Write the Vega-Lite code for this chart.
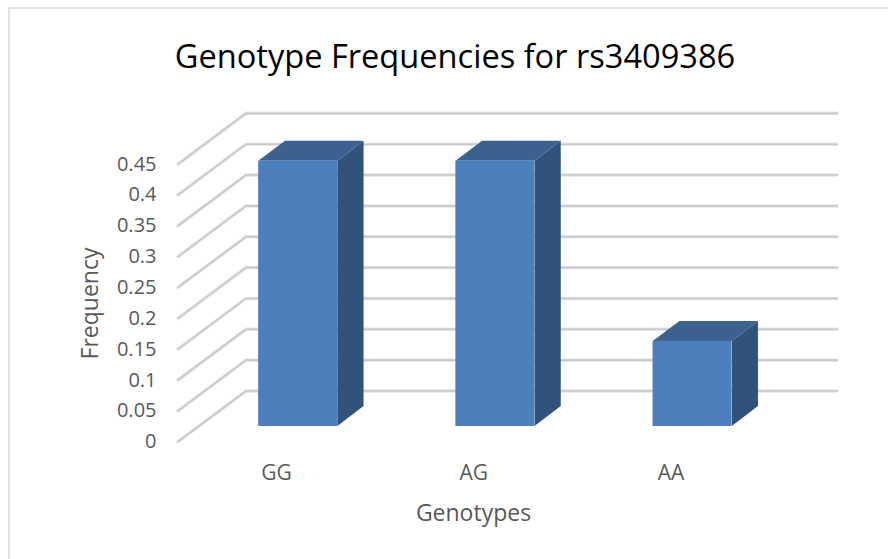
{
"$schema":"https://vega.github.io/schema/vega-lite/v6.json",
"width":888,"height":559,"padding":0,"autosize":"none","background":"white",
"config":{"view":{"stroke":null},"font":"Open Sans"},
"title":{"text":"Genotype Frequencies for rs3409386","font":"Open Sans","fontSize":32.6,"fontWeight":"normal","color":"#000000","anchor":"middle","frame":"group","dx":11,"offset":-75},
"datasets":{
"frame":[{"seq":0,"pos":-0.857,"level":-0.19},{"seq":1,"pos":-0.857,"level":0.703},{"seq":2,"pos":3.6,"level":0.703}],
"grid":[
{"tick":0,"seq":0,"pos":0,"level":0},{"tick":0,"seq":1,"pos":0.3448,"level":0.0822},{"tick":0,"seq":2,"pos":3.342,"level":0.0822},
{"tick":0.05,"seq":0,"pos":0,"level":0.05},{"tick":0.05,"seq":1,"pos":0.3448,"level":0.1322},{"tick":0.05,"seq":2,"pos":3.342,"level":0.1322},
{"tick":0.1,"seq":0,"pos":0,"level":0.1},{"tick":0.1,"seq":1,"pos":0.3448,"level":0.1822},{"tick":0.1,"seq":2,"pos":3.342,"level":0.1822},
{"tick":0.15,"seq":0,"pos":0,"level":0.15},{"tick":0.15,"seq":1,"pos":0.3448,"level":0.2322},{"tick":0.15,"seq":2,"pos":3.342,"level":0.2322},
{"tick":0.2,"seq":0,"pos":0,"level":0.2},{"tick":0.2,"seq":1,"pos":0.3448,"level":0.2822},{"tick":0.2,"seq":2,"pos":3.342,"level":0.2822},
{"tick":0.25,"seq":0,"pos":0,"level":0.25},{"tick":0.25,"seq":1,"pos":0.3448,"level":0.3322},{"tick":0.25,"seq":2,"pos":3.342,"level":0.3322},
{"tick":0.3,"seq":0,"pos":0,"level":0.3},{"tick":0.3,"seq":1,"pos":0.3448,"level":0.3822},{"tick":0.3,"seq":2,"pos":3.342,"level":0.3822},
{"tick":0.35,"seq":0,"pos":0,"level":0.35},{"tick":0.35,"seq":1,"pos":0.3448,"level":0.4322},{"tick":0.35,"seq":2,"pos":3.342,"level":0.4322},
{"tick":0.4,"seq":0,"pos":0,"level":0.4},{"tick":0.4,"seq":1,"pos":0.3448,"level":0.4822},{"tick":0.4,"seq":2,"pos":3.342,"level":0.4822},
{"tick":0.45,"seq":0,"pos":0,"level":0.45},{"tick":0.45,"seq":1,"pos":0.3448,"level":0.5322},{"tick":0.45,"seq":2,"pos":3.342,"level":0.5322}
],
"side":[
{"genotype":"GG","pos":0.808,"upper":0.4554,"lower":0.0254},{"genotype":"GG","pos":0.941,"upper":0.4878,"lower":0.0578},
{"genotype":"AG","pos":1.808,"upper":0.4554,"lower":0.0254},{"genotype":"AG","pos":1.941,"upper":0.4878,"lower":0.0578},
{"genotype":"AA","pos":2.808,"upper":0.1634,"lower":0.0254},{"genotype":"AA","pos":2.941,"upper":0.1958,"lower":0.0578}
],
"top":[
{"genotype":"GG","pos":0.4072,"upper":0.4554,"lower":0.4554},{"genotype":"GG","pos":0.5426,"upper":0.4878,"lower":0.4554},{"genotype":"GG","pos":0.808,"upper":0.4878,"lower":0.4554},{"genotype":"GG","pos":0.941,"upper":0.4878,"lower":0.4878},
{"genotype":"AG","pos":1.4072,"upper":0.4554,"lower":0.4554},{"genotype":"AG","pos":1.5426,"upper":0.4878,"lower":0.4554},{"genotype":"AG","pos":1.808,"upper":0.4878,"lower":0.4554},{"genotype":"AG","pos":1.941,"upper":0.4878,"lower":0.4878},
{"genotype":"AA","pos":2.4072,"upper":0.1634,"lower":0.1634},{"genotype":"AA","pos":2.5426,"upper":0.1958,"lower":0.1634},{"genotype":"AA","pos":2.808,"upper":0.1958,"lower":0.1634},{"genotype":"AA","pos":2.941,"upper":0.1958,"lower":0.1958}
],
"bars":[{"genotype":"GG","frequency":0.43},{"genotype":"AG","frequency":0.43},{"genotype":"AA","frequency":0.138}]
},
"data":{"name":"bars"},
"resolve":{"scale":{"x":"independent"},"axis":{"x":"independent","y":"independent"}},
"layer":[
{"data":{"name":"frame"},"mark":{"type":"line","color":"#e2e2e2","strokeWidth":2,"clip":false},
 "encoding":{"x":{"field":"pos","type":"quantitative","axis":null,"scale":{"domain":[-0.9026,3.6004],"nice":false,"zero":false}},
 "y":{"field":"level","type":"quantitative","axis":null,"scale":{"domain":[-0.1901,0.7159],"nice":false,"zero":false}},
 "order":{"field":"seq"}}},
{"data":{"name":"grid"},"mark":{"type":"line","color":"#e6e6e6","strokeWidth":3.5,"strokeCap":"round"},
 "encoding":{"x":{"field":"pos","type":"quantitative","axis":null,"scale":{"domain":[-0.9026,3.6004],"nice":false,"zero":false}},
 "y":{"field":"level","type":"quantitative","axis":null,"scale":{"domain":[-0.1901,0.7159],"nice":false,"zero":false}},
 "detail":{"field":"tick"},"order":{"field":"seq"}}},
{"data":{"name":"grid"},"mark":{"type":"line","color":"#c8c8c8","strokeWidth":1.6,"strokeCap":"round"},
 "encoding":{"x":{"field":"pos","type":"quantitative","axis":null,"scale":{"domain":[-0.9026,3.6004],"nice":false,"zero":false}},
 "y":{"field":"level","type":"quantitative","axis":null,"scale":{"domain":[-0.1901,0.7159],"nice":false,"zero":false}},
 "detail":{"field":"tick"},"order":{"field":"seq"}}},
{"data":{"name":"side"},"mark":{"type":"area","color":"#31527a","orient":"vertical","opacity":1},
 "encoding":{"x":{"field":"pos","type":"quantitative","axis":null,"scale":{"domain":[-0.9026,3.6004],"nice":false,"zero":false}},
 "y":{"field":"upper","type":"quantitative","axis":null,"scale":{"domain":[-0.1901,0.7159],"nice":false,"zero":false}},
 "y2":{"field":"lower"},"detail":{"field":"genotype"}}},
{"data":{"name":"top"},"mark":{"type":"area","color":"#3c618f","orient":"vertical","opacity":1},
 "encoding":{"x":{"field":"pos","type":"quantitative","axis":null,"scale":{"domain":[-0.9026,3.6004],"nice":false,"zero":false}},
 "y":{"field":"upper","type":"quantitative","axis":null,"scale":{"domain":[-0.1901,0.7159],"nice":false,"zero":false}},
 "y2":{"field":"lower"},"detail":{"field":"genotype"}}},
{"mark":{"type":"bar","color":"#4d7fbc","xOffset":21,"x2Offset":21,"yOffset":-15.7,"y2Offset":-15.7},
 "encoding":{"x":{"field":"genotype","type":"nominal","sort":["GG","AG","AA"],
   "scale":{"domain":["GG","AG","AA"],"range":[178,769.6],"paddingInner":0.6,"paddingOuter":0.3},
   "axis":{"title":"Genotypes","orient":"bottom","offset":-117.3,"labelAngle":0,"domain":false,"ticks":false,"labelPadding":21,"labelFont":"Open Sans","labelFontSize":21,"labelColor":"#595959","titleFont":"Open Sans","titleFontSize":23,"titleFontWeight":"normal","titleColor":"#595959","titleX":473,"titleY":61}},
  "y":{"field":"frequency","type":"quantitative",
   "scale":{"domain":[-0.1901,0.7159],"nice":false,"zero":false},
   "axis":{"title":"Frequency","orient":"left","offset":-178,"values":[0,0.05,0.1,0.15,0.2,0.25,0.3,0.35,0.4,0.45],"labelExpr":"'' + datum.value","grid":false,"domain":false,"ticks":false,"labelPadding":22,"labelFont":"Open Sans","labelFontSize":20,"labelColor":"#595959","titleFont":"Open Sans","titleFontSize":23,"titleFontWeight":"normal","titleColor":"#595959","titleX":-76,"titleY":303}},
  "y2":{"datum":0}}}
]
}
